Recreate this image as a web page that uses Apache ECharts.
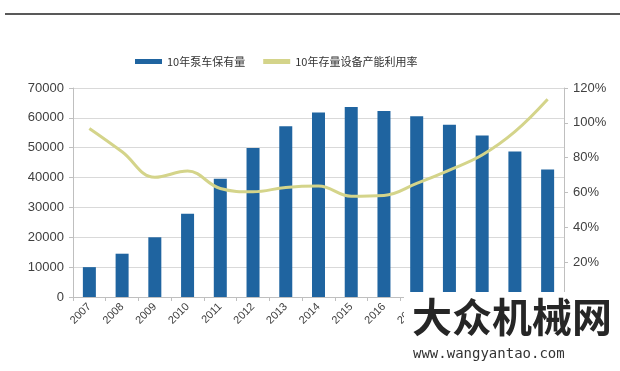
<!DOCTYPE html>
<html><head><meta charset="utf-8">
<script src="https://cdn.jsdelivr.net/npm/echarts@6/dist/echarts.min.js"></script>
<style>html,body{margin:0;padding:0;background:#fff}#c{width:620px;height:371px}</style>
</head><body><div id="c"></div>
<script>
var years = ['2007','2008','2009','2010','2011','2012','2013','2014','2015','2016','2017','2018','2019','2020','2021'];
var pumpTrucks = [10000,14500,20000,27900,39600,49900,57200,61800,63600,62300,60500,57700,54100,48700,42700];
var utilization = [96.8,83.4,68.7,72.3,62.3,60.4,62.9,63.7,57.9,58.3,65.2,72.9,81.5,94.9,113.5];
var leftTicks = [0,70000,10000];
var rightTicks = [0,120,20];

var chart = echarts.init(document.getElementById('c'));
var lab = {color:'#404040', fontSize:13, fontFamily:'Liberation Sans, Arial, sans-serif'};
chart.setOption({
  animation:false,
  backgroundColor:'#fff',
  legend:{top:51,left:130,itemGap:18,itemWidth:27,itemHeight:5,
    textStyle:{color:'#333',fontSize:11,fontFamily:'Noto Sans CJK SC'},
    data:[{name:'10年泵车保有量',icon:'rect'},{name:'10年存量设备产能利用率',icon:'rect'}]},
  grid:{left:73,right:56,top:88,bottom:74},
  xAxis:{type:'category',data:years,
    axisLine:{lineStyle:{color:'#bfbfbf'}},
    axisTick:{show:true,length:4,lineStyle:{color:'#bfbfbf'}},
    axisLabel:{rotate:45,margin:8,fontSize:11,color:'#404040',fontFamily:'Liberation Sans, Arial, sans-serif'}},
  yAxis:[
    {type:'value',min:leftTicks[0],max:leftTicks[1],interval:leftTicks[2],
     axisLine:{show:true,lineStyle:{color:'#bfbfbf'}},
     axisTick:{show:true,length:4,lineStyle:{color:'#bfbfbf'}},
     splitLine:{lineStyle:{color:'#d9d9d9'}},
     axisLabel:Object.assign({margin:9,formatter:function(v){return String(v);}},lab)},
    {type:'value',min:rightTicks[0],max:rightTicks[1],interval:rightTicks[2],
     axisLine:{show:true,lineStyle:{color:'#bfbfbf'}},
     axisTick:{show:true,length:4,lineStyle:{color:'#bfbfbf'}},
     splitLine:{show:false},
     axisLabel:Object.assign({margin:9,formatter:'{value}%',showMinLabel:false},lab)}
  ],
  series:[
    {name:'10年泵车保有量',type:'bar',data:pumpTrucks,barWidth:13,
     itemStyle:{color:'#1f64a0'}},
    {name:'10年存量设备产能利用率',type:'line',yAxisIndex:1,data:utilization,
     smooth:0.4,symbol:'none',lineStyle:{color:'#d4d48a',width:3},itemStyle:{color:'#d4d48a'}}
  ],
  graphic:[
    {type:'line',shape:{x1:5,y1:14,x2:620,y2:14},style:{stroke:'#222',lineWidth:1.5},z:10},
    {type:'rect',shape:{x:404,y:292,width:216,height:79},style:{fill:'#fff'},z:20},
    {type:'text',left:412,top:297,z:21,style:{text:'大众机械网',fontSize:40,fontWeight:'bold',
      fontFamily:'Noto Sans CJK SC',fill:'#262626'}},
    {type:'text',left:413,top:347,z:21,style:{text:'www.wangyantao.com',fontSize:14,
      fontFamily:'DejaVu Sans Mono',fill:'#333'}}
  ]
});
</script></body></html>
